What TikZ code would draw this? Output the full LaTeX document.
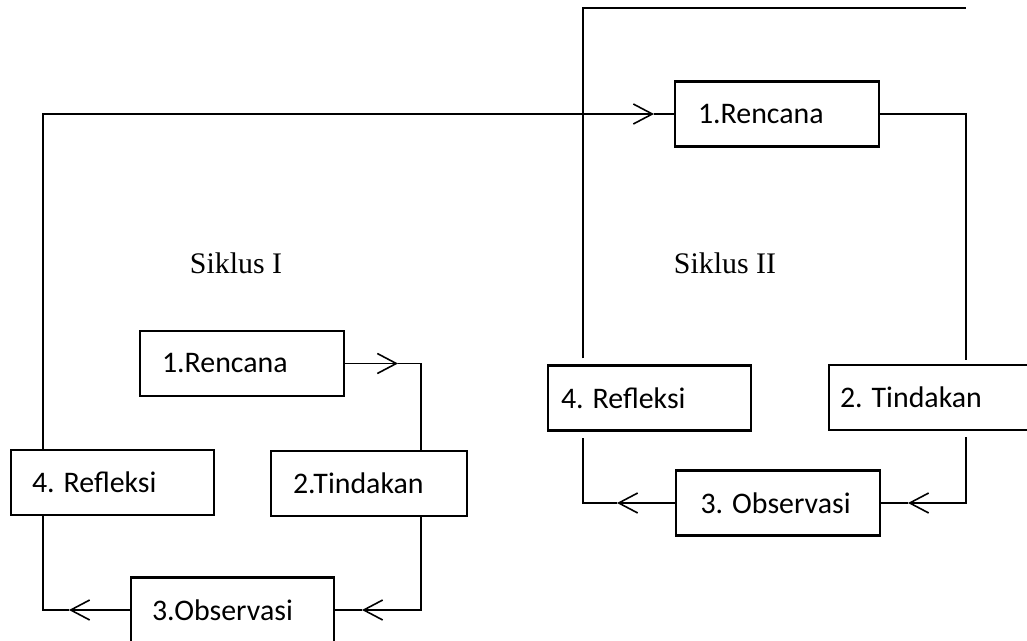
\documentclass[tikz,border=0pt]{standalone}
\usepackage{fontspec}
\setmainfont{Liberation Serif}
\newfontfamily\boxfont{Carlito}
\usetikzlibrary{arrows.meta,calc}

\tikzset{
	stage/.style 2 args={draw, rectangle, line width=1.3pt, minimum height=1.3cm,
		text width=#1, inner xsep=#2, align=flush left,
		font=\boxfont\fontsize{17}{20}\selectfont},
	link/.style={line width=0.7pt},
	barb/.style={link, -{Straight Barb[length=3.8mm, width=4mm, line width=0.9pt]}},
	cycname/.style={font=\fontsize{17}{20}\selectfont}
}

\begin{document}
\begin{tikzpicture}[x=0.02cm, y=-0.02cm]
\useasboundingbox (0,0) rectangle (1027,641);
\clip (0,0) rectangle (1027,641);

% Siklus I
\node[stage={3.2cm}{0.44cm}] (ren1) at (242,363.5) {1.Rencana};
\node[stage={3.04cm}{0.44cm}] (tin1) at (369,483.5) {2.Tindakan};
\node[stage={3.22cm}{0.42cm}] (obs1) at (232.5,610) {3.Observasi};
\node[stage={3.22cm}{0.42cm}] (ref1) at (112.5,482.5) {4. Refleksi};
\node[cycname] (sik1) at (236,263) {Siklus I};

% Siklus II
\node[stage={3.16cm}{0.46cm}] (ren2) at (777,114) {1.Rencana};
\node[stage={4.5cm}{0.22cm}] (tin2) at (952.5,397.5) {2. Tindakan};
\node[stage={3.1cm}{0.49cm}] (obs2) at (778,503) {3. Observasi};
\node[stage={3.54cm}{0.26cm}] (ref2) at (649.5,398) {4. Refleksi};
\node[cycname] (sik2) at (725,263) {Siklus II};

% corners and arrow tips
\coordinate (c1) at (421,363.5);
\coordinate (a1) at (398,363.5);
\coordinate (c2) at (421,610);
\coordinate (a2) at (362,610);
\coordinate (c3) at (43,610);
\coordinate (a3) at (69,610);
\coordinate (c4) at (43,114);
\coordinate (a4) at (654,114);
\coordinate (c5) at (966,114);
\coordinate (c6) at (966,503);
\coordinate (a6) at (908,503);
\coordinate (c7) at (583,503);
\coordinate (a7) at (617,503);
\coordinate (c8) at (583,8);
\coordinate (e8) at (966,8);

\draw[barb] (ren1.east) -- (a1);
\draw[link] (a1) -- (c1) -- (c1 |- tin1.north);
\draw[barb] (c1 |- tin1.south) -- (c2) -- (a2);
\draw[link] (a2) -- (obs1.east);
\draw[barb] (obs1.west) -- (a3);
\draw[link] (a3) -- (c3) -- (c3 |- ref1.south);
\draw[barb] (c3 |- ref1.north) -- (c4) -- (a4);
\draw[link] (a4) -- (ren2.west);

\draw[link, shorten >=0.8mm] (ren2.east) -- (c5) -- (c5 |- tin2.north);
\draw[barb, shorten <=1.2mm] (c5 |- tin2.south) -- (c6) -- (a6);
\draw[link] (a6) -- (obs2.east);
\draw[barb] (obs2.west) -- (a7);
\draw[link, shorten >=1.2mm] (a7) -- (c7) -- (c7 |- ref2.south);
\draw[link, shorten <=1.2mm] (c7 |- ref2.north) -- (c8) -- (e8);

\end{tikzpicture}
\end{document}
